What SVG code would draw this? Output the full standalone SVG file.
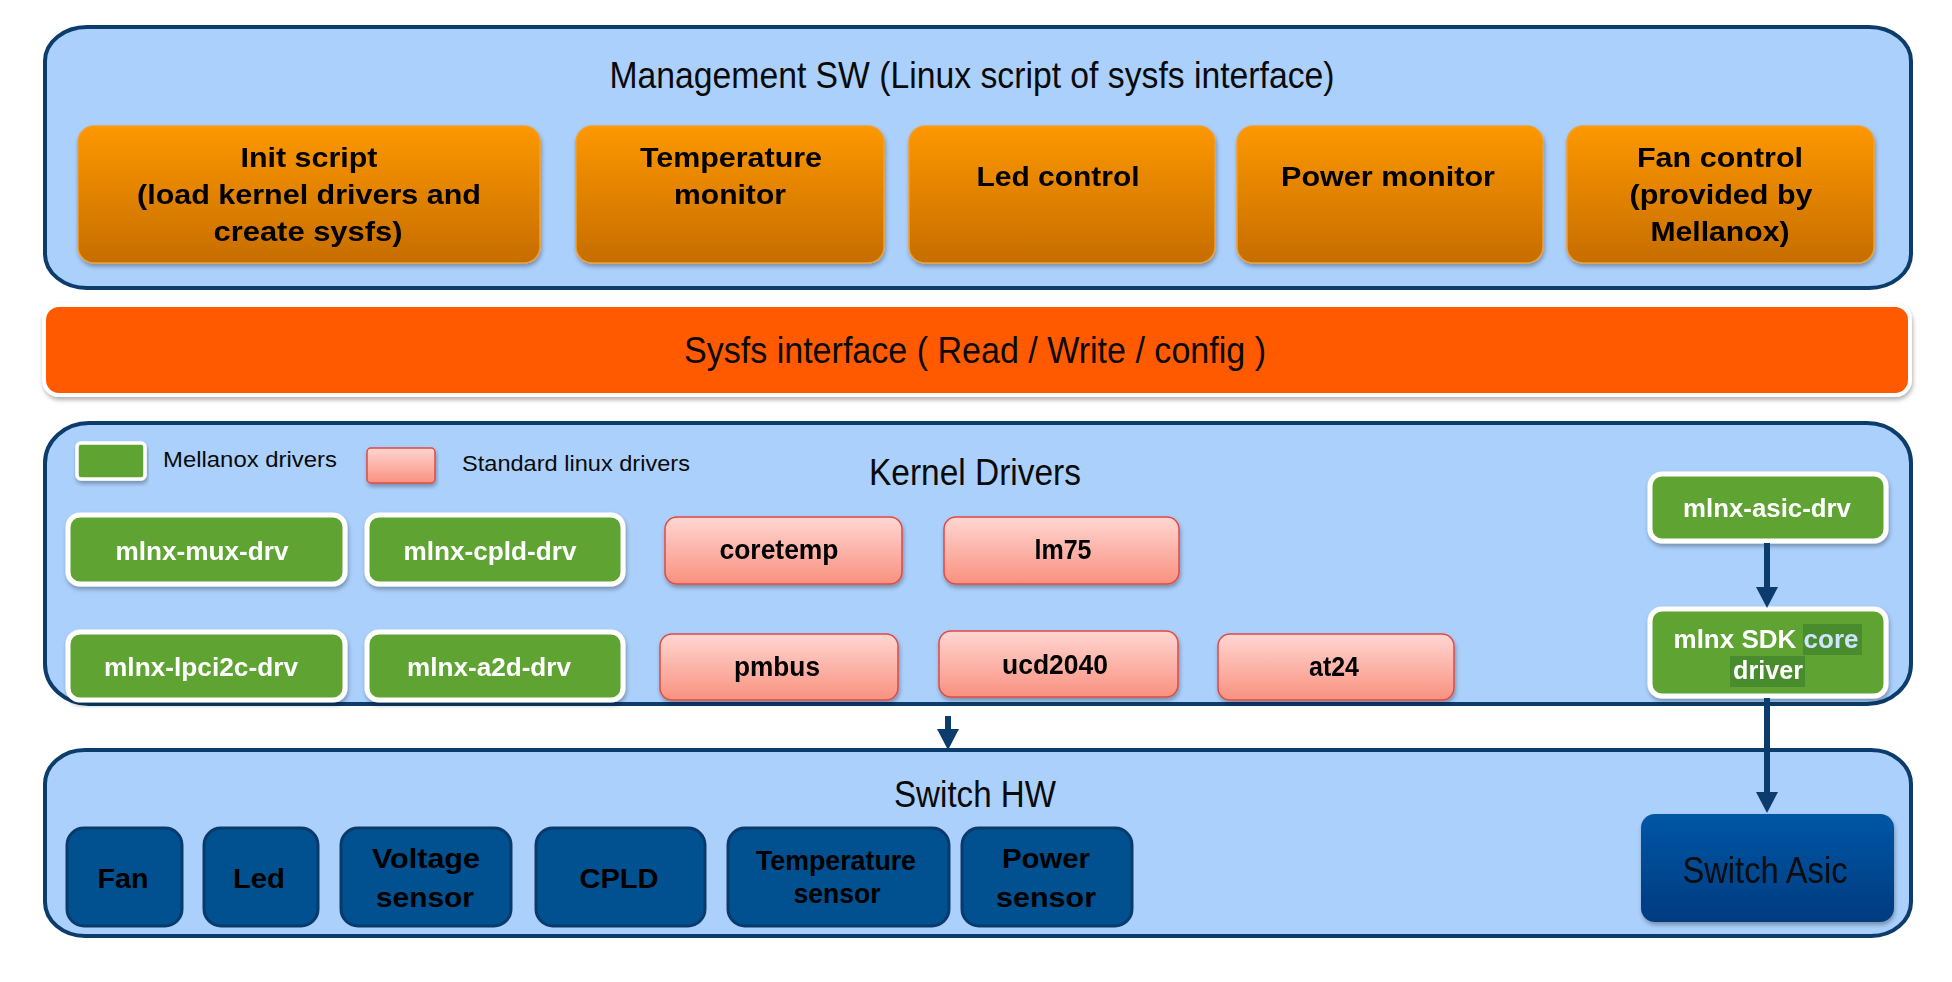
<svg xmlns="http://www.w3.org/2000/svg" width="1952" height="982" viewBox="0 0 1952 982">
<defs>
<linearGradient id="gOrange" x1="0" y1="0" x2="0" y2="1">
<stop offset="0" stop-color="#fd9800"/>
<stop offset="1" stop-color="#c66d00"/>
</linearGradient>
<linearGradient id="gPink" x1="0" y1="0" x2="0" y2="1">
<stop offset="0" stop-color="#ffd6d2"/>
<stop offset="1" stop-color="#f9917f"/>
</linearGradient>
<linearGradient id="gAsic" x1="0" y1="0" x2="0" y2="1">
<stop offset="0" stop-color="#0256a6"/>
<stop offset="1" stop-color="#033b7f"/>
</linearGradient>
<filter id="shadow" x="-5%" y="-10%" width="110%" height="130%">
<feDropShadow dx="1" dy="3" stdDeviation="2" flood-color="#000" flood-opacity="0.3"/>
</filter>
<marker id="arrow" viewBox="0 -12 22 24" refX="0" refY="0" markerWidth="22" markerHeight="24" markerUnits="userSpaceOnUse" orient="auto">
<path d="M0,-11 L21,0 L0,11 z" fill="#0b3c6b"/>
</marker>
<style>
.panel{fill:#abd0fc;stroke:#0b3c6b;stroke-width:4}
.title{font-family:"Liberation Sans",Arial,sans-serif;font-size:36px;fill:#0a0a0a;text-anchor:middle}
.orange{fill:url(#gOrange);stroke:#f0a030;stroke-width:1.5}
.green{fill:#5ea432;stroke:#ffffff;stroke-width:5}
.pink{fill:url(#gPink);stroke:#e04a44;stroke-width:1.5}
.hw{fill:#01508f;stroke:#0a3a6c;stroke-width:3}
.bt{font-family:"Liberation Sans",Arial,sans-serif;font-weight:bold;font-size:27px;fill:#000;text-anchor:middle}
.wt{font-family:"Liberation Sans",Arial,sans-serif;font-weight:bold;font-size:26px;fill:#fff;text-anchor:middle}
.lg{font-family:"Liberation Sans",Arial,sans-serif;font-size:22px;fill:#0a0a0a}
.conn{stroke:#0b3c6b;stroke-width:6;fill:none}
</style>
</defs>
<rect width="1952" height="982" fill="#ffffff"/>

<g id="mgmt-panel">
<rect class="panel" x="45" y="27" width="1866" height="261" rx="42" ry="34"/>
<text class="title" x="972" y="88" textLength="725" lengthAdjust="spacingAndGlyphs">Management SW (Linux script of sysfs interface)</text>
</g>

<g id="init-script" filter="url(#shadow)">
<rect class="orange" x="78" y="126" width="462" height="137" rx="16"/>
<text class="bt" x="309" y="167" textLength="137" lengthAdjust="spacingAndGlyphs">Init script</text>
<text class="bt" x="309" y="204" textLength="344" lengthAdjust="spacingAndGlyphs">(load kernel drivers and</text>
<text class="bt" x="308" y="241" textLength="189" lengthAdjust="spacingAndGlyphs">create sysfs)</text>
</g>
<g id="temperature-monitor" filter="url(#shadow)">
<rect class="orange" x="576" y="126" width="308" height="137" rx="16"/>
<text class="bt" x="731" y="167" textLength="182" lengthAdjust="spacingAndGlyphs">Temperature</text>
<text class="bt" x="730" y="204" textLength="112" lengthAdjust="spacingAndGlyphs">monitor</text>
</g>
<g id="led-control" filter="url(#shadow)">
<rect class="orange" x="909" y="126" width="306" height="137" rx="16"/>
<text class="bt" x="1058" y="186" textLength="163" lengthAdjust="spacingAndGlyphs">Led control</text>
</g>
<g id="power-monitor" filter="url(#shadow)">
<rect class="orange" x="1237" y="126" width="306" height="137" rx="16"/>
<text class="bt" x="1388" y="186" textLength="214" lengthAdjust="spacingAndGlyphs">Power monitor</text>
</g>
<g id="fan-control" filter="url(#shadow)">
<rect class="orange" x="1567" y="126" width="307" height="137" rx="16"/>
<text class="bt" x="1720" y="167" textLength="166" lengthAdjust="spacingAndGlyphs">Fan control</text>
<text class="bt" x="1721" y="204" textLength="183" lengthAdjust="spacingAndGlyphs">(provided by</text>
<text class="bt" x="1720" y="241" textLength="139" lengthAdjust="spacingAndGlyphs">Mellanox)</text>
</g>

<g id="sysfs-interface">
<rect x="42" y="303" width="1870" height="94" rx="17" fill="#ffffff" filter="url(#shadow)"/>
<rect x="46" y="307" width="1862" height="86" rx="13" fill="#ff5a00"/>
<text class="title" x="975" y="363" textLength="582" lengthAdjust="spacingAndGlyphs">Sysfs interface ( Read / Write / config )</text>
</g>

<g id="kernel-panel">
<rect class="panel" x="45" y="423" width="1866" height="281" rx="44" ry="40"/>
<text class="title" x="975" y="485" textLength="212" lengthAdjust="spacingAndGlyphs">Kernel Drivers</text>
</g>

<g id="legend">
<rect x="77" y="443" width="68" height="36" rx="4" fill="#5ea432" stroke="#ffffff" stroke-width="3.5" filter="url(#shadow)"/>
<text class="lg" x="163" y="467" textLength="174" lengthAdjust="spacingAndGlyphs">Mellanox drivers</text>
<rect x="367" y="448" width="68" height="35" rx="4" fill="url(#gPink)" stroke="#e04a44" stroke-width="1.5" filter="url(#shadow)"/>
<text class="lg" x="462" y="471" textLength="228" lengthAdjust="spacingAndGlyphs">Standard linux drivers</text>
</g>

<g id="mlnx-mux-drv" filter="url(#shadow)">
<rect class="green" x="68" y="515" width="277" height="69" rx="12"/>
<text class="wt" x="202" y="560" textLength="173" lengthAdjust="spacingAndGlyphs">mlnx-mux-drv</text>
</g>
<g id="mlnx-cpld-drv" filter="url(#shadow)">
<rect class="green" x="367" y="515" width="256" height="69" rx="12"/>
<text class="wt" x="490" y="560" textLength="173" lengthAdjust="spacingAndGlyphs">mlnx-cpld-drv</text>
</g>
<g id="coretemp" filter="url(#shadow)">
<rect class="pink" x="665" y="517" width="237" height="67" rx="12"/>
<text class="bt" x="779" y="559" textLength="119" lengthAdjust="spacingAndGlyphs">coretemp</text>
</g>
<g id="lm75" filter="url(#shadow)">
<rect class="pink" x="944" y="517" width="235" height="67" rx="12"/>
<text class="bt" x="1063" y="559" textLength="57" lengthAdjust="spacingAndGlyphs">lm75</text>
</g>
<g id="mlnx-lpci2c-drv" filter="url(#shadow)">
<rect class="green" x="68" y="632" width="277" height="68" rx="12"/>
<text class="wt" x="201" y="676" textLength="194" lengthAdjust="spacingAndGlyphs">mlnx-lpci2c-drv</text>
</g>
<g id="mlnx-a2d-drv" filter="url(#shadow)">
<rect class="green" x="367" y="632" width="256" height="68" rx="12"/>
<text class="wt" x="489" y="676" textLength="164" lengthAdjust="spacingAndGlyphs">mlnx-a2d-drv</text>
</g>
<g id="pmbus" filter="url(#shadow)">
<rect class="pink" x="660" y="634" width="238" height="66" rx="12"/>
<text class="bt" x="777" y="676" textLength="86" lengthAdjust="spacingAndGlyphs">pmbus</text>
</g>
<g id="ucd2040" filter="url(#shadow)">
<rect class="pink" x="939" y="631" width="239" height="66" rx="12"/>
<text class="bt" x="1055" y="674" textLength="106" lengthAdjust="spacingAndGlyphs">ucd2040</text>
</g>
<g id="at24" filter="url(#shadow)">
<rect class="pink" x="1218" y="634" width="236" height="66" rx="12"/>
<text class="bt" x="1334" y="676" textLength="50" lengthAdjust="spacingAndGlyphs">at24</text>
</g>
<g id="mlnx-asic-drv" filter="url(#shadow)">
<rect class="green" x="1650" y="474" width="236" height="67" rx="12"/>
<text class="wt" x="1767" y="517" textLength="168" lengthAdjust="spacingAndGlyphs">mlnx-asic-drv</text>
</g>
<g id="mlnx-sdk-core-driver" filter="url(#shadow)">
<rect class="green" x="1650" y="609" width="236" height="87" rx="12"/>
<rect x="1803" y="624" width="59" height="31" fill="#4a8c2e"/>
<rect x="1730" y="656" width="75" height="31" fill="#4a8c2e"/>
<text class="wt" x="1766" y="648"><tspan>mlnx SDK </tspan><tspan fill="#cfe4ff">core</tspan></text>
<text class="wt" x="1768" y="679" fill="#cfe4ff" textLength="70" lengthAdjust="spacingAndGlyphs">driver</text>
</g>

<g id="switch-hw-panel">
<rect class="panel" x="45" y="750" width="1866" height="186" rx="40" ry="34"/>
<text class="title" x="975" y="807" textLength="162" lengthAdjust="spacingAndGlyphs">Switch HW</text>
</g>

<g id="hw-fan">
<rect class="hw" x="67" y="828" width="115" height="98" rx="17"/>
<text class="bt" x="123" y="888" textLength="51" lengthAdjust="spacingAndGlyphs">Fan</text>
</g>
<g id="hw-led">
<rect class="hw" x="204" y="828" width="114" height="98" rx="17"/>
<text class="bt" x="259" y="888" textLength="52" lengthAdjust="spacingAndGlyphs">Led</text>
</g>
<g id="hw-voltage-sensor">
<rect class="hw" x="341" y="828" width="170" height="98" rx="17"/>
<text class="bt" x="426" y="868" textLength="108" lengthAdjust="spacingAndGlyphs">Voltage</text>
<text class="bt" x="425" y="907" textLength="98" lengthAdjust="spacingAndGlyphs">sensor</text>
</g>
<g id="hw-cpld">
<rect class="hw" x="536" y="828" width="169" height="98" rx="17"/>
<text class="bt" x="619" y="888" textLength="79" lengthAdjust="spacingAndGlyphs">CPLD</text>
</g>
<g id="hw-temperature-sensor">
<rect class="hw" x="728" y="828" width="221" height="98" rx="17"/>
<text class="bt" x="836" y="870" font-size="24" textLength="160" lengthAdjust="spacingAndGlyphs">Temperature</text>
<text class="bt" x="837" y="903" font-size="24" textLength="87" lengthAdjust="spacingAndGlyphs">sensor</text>
</g>
<g id="hw-power-sensor">
<rect class="hw" x="962" y="828" width="170" height="98" rx="17"/>
<text class="bt" x="1046" y="868" textLength="88" lengthAdjust="spacingAndGlyphs">Power</text>
<text class="bt" x="1046" y="907" textLength="100" lengthAdjust="spacingAndGlyphs">sensor</text>
</g>
<g id="switch-asic" filter="url(#shadow)">
<rect x="1641" y="814" width="253" height="108" rx="14" fill="url(#gAsic)"/>
<text class="title" x="1765" y="883" fill="#0a1628" textLength="165" lengthAdjust="spacingAndGlyphs">Switch Asic</text>
</g>

<g id="connectors">
<line class="conn" x1="1767" y1="543" x2="1767" y2="587" marker-end="url(#arrow)"/>
<line class="conn" x1="1767" y1="698" x2="1767" y2="792" marker-end="url(#arrow)"/>
<line class="conn" x1="948" y1="716" x2="948" y2="729" stroke-width="4" marker-end="url(#arrow)"/>
</g>
</svg>
